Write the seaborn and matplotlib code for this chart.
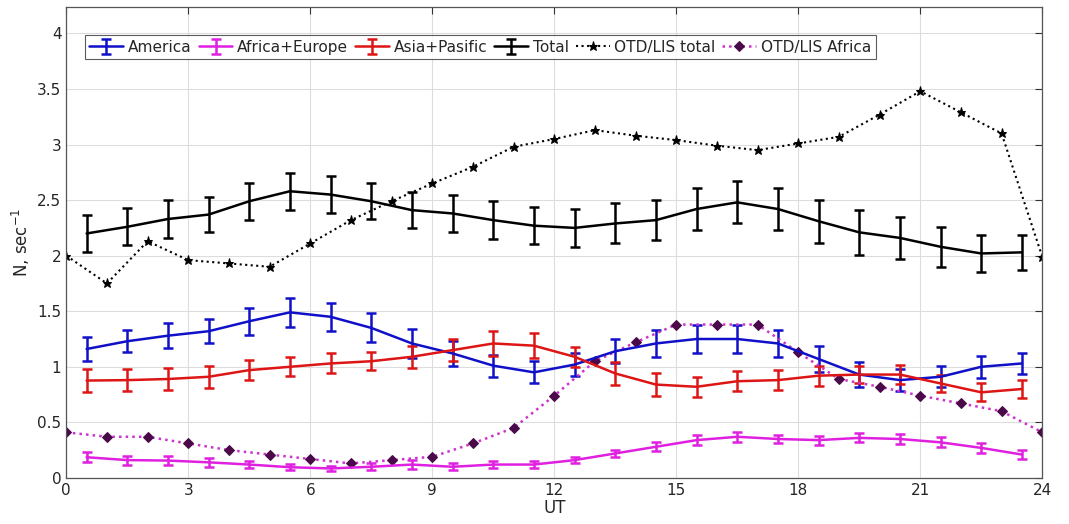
import numpy as np
import pandas as pd
import seaborn as sns
import matplotlib
matplotlib.use("Agg")
import matplotlib.pyplot as plt

# hourly bins (regional data) and full-hour points (OTD/LIS)
ut_bins = [h + 0.5 for h in range(24)]
ut_hours = list(range(25))

america = [1.16, 1.23, 1.28, 1.32, 1.41, 1.49, 1.45, 1.35, 1.21, 1.12, 1.01, 0.95,
           1.02, 1.14, 1.21, 1.25, 1.25, 1.21, 1.07, 0.93, 0.88, 0.91, 1.00, 1.03]
america_err = [0.105, 0.10, 0.11, 0.11, 0.12, 0.13, 0.125, 0.13, 0.13, 0.11, 0.10, 0.10,
               0.10, 0.11, 0.12, 0.125, 0.13, 0.12, 0.12, 0.11, 0.10, 0.095, 0.10, 0.095]

africa_europe = [0.186, 0.16, 0.156, 0.14, 0.12, 0.096, 0.085, 0.10, 0.12, 0.10, 0.12, 0.12,
                 0.16, 0.22, 0.28, 0.34, 0.37, 0.35, 0.34, 0.36, 0.35, 0.32, 0.27, 0.21]
africa_europe_err = [0.045, 0.04, 0.04, 0.04, 0.035, 0.025, 0.02, 0.03, 0.04, 0.03, 0.03, 0.03,
                     0.03, 0.03, 0.04, 0.045, 0.045, 0.04, 0.04, 0.04, 0.045, 0.045, 0.045, 0.04]

asia_pacific = [0.876, 0.88, 0.89, 0.91, 0.97, 1.00, 1.03, 1.05, 1.09, 1.15, 1.21, 1.19,
                1.09, 0.94, 0.84, 0.82, 0.87, 0.88, 0.92, 0.93, 0.93, 0.85, 0.77, 0.80]
asia_pacific_err = [0.105, 0.10, 0.10, 0.10, 0.09, 0.085, 0.09, 0.08, 0.10, 0.10, 0.11, 0.11,
                    0.09, 0.10, 0.10, 0.09, 0.09, 0.09, 0.09, 0.08, 0.085, 0.08, 0.08, 0.08]

total = [2.20, 2.26, 2.33, 2.37, 2.49, 2.58, 2.55, 2.49, 2.41, 2.38, 2.32, 2.27,
         2.25, 2.29, 2.32, 2.42, 2.48, 2.42, 2.31, 2.21, 2.16, 2.08, 2.02, 2.03]
total_err = [0.17, 0.165, 0.17, 0.16, 0.165, 0.165, 0.165, 0.16, 0.16, 0.17, 0.17, 0.165,
             0.17, 0.18, 0.18, 0.185, 0.19, 0.19, 0.195, 0.2, 0.19, 0.18, 0.17, 0.16]

otd_total = [2.00, 1.75, 2.13, 1.96, 1.93, 1.90, 2.11, 2.32, 2.49, 2.65, 2.80, 2.98, 3.05,
             3.13, 3.08, 3.04, 2.99, 2.95, 3.01, 3.07, 3.27, 3.48, 3.29, 3.10, 1.99]
otd_africa = [0.41, 0.37, 0.37, 0.31, 0.25, 0.21, 0.17, 0.13, 0.16, 0.19, 0.31, 0.45, 0.74,
              1.05, 1.22, 1.38, 1.38, 1.38, 1.13, 0.89, 0.82, 0.74, 0.67, 0.60, 0.41]

legend_order = ["America", "Africa+Europe", "Asia+Pasific", "Total",
                "OTD/LIS total", "OTD/LIS Africa"]

sns.set_style("white")
plt.rcParams['font.family'] = ['DejaVu Sans']

fig, ax = plt.subplots(figsize=(10.69, 5.24), dpi=100)
fig.subplots_adjust(left=0.062, right=0.975, top=0.987, bottom=0.088)

# regional series with error bars
regions = [
    ("America", america, america_err, "#1010c8"),
    ("Africa+Europe", africa_europe, africa_europe_err, "#e020e0"),
    ("Asia+Pasific", asia_pacific, asia_pacific_err, "#dd1515"),
    ("Total", total, total_err, "black"),
]
for name, vals, errs, col in regions:
    ax.errorbar(ut_bins, vals, yerr=errs, color=col, lw=1.8, elinewidth=1.8,
                capsize=3.6, capthick=1.8, label=name)

otd = pd.DataFrame({"UT": ut_hours, "total": otd_total, "africa": otd_africa})
sns.lineplot(data=otd, x="UT", y="total", ax=ax, color="black", lw=1.5,
             linestyle=":", marker="*", markersize=6.5, markeredgecolor="black",
             label="OTD/LIS total")
sns.lineplot(data=otd, x="UT", y="africa", ax=ax, color="#cc33cc", lw=1.8,
             linestyle=":", marker="D", markersize=5, markerfacecolor="#4a0a4a",
             markeredgecolor="#4a0a4a", label="OTD/LIS Africa")

ax.set_xlim(0, 24)
ax.set_ylim(0, 4.24)
ax.set_xticks(range(0, 25, 3))
ax.set_yticks([0, 0.5, 1, 1.5, 2, 2.5, 3, 3.5, 4])
ax.set_yticklabels(["0", "0.5", "1", "1.5", "2", "2.5", "3", "3.5", "4"])
ax.grid(True, color="#dddddd", lw=0.8)
ax.tick_params(direction="in", top=True, right=True, length=5, labelsize=11,
               colors="#333333", labelcolor="#262626")
for s in ax.spines.values():
    s.set_color("#555555")
    s.set_linewidth(0.9)
ax.set_xlabel("UT", fontsize=12, color="#262626", labelpad=1)
ax.set_ylabel("N, sec$^{-1}$", fontsize=12, color="#262626", labelpad=4)

handles, labels = ax.get_legend_handles_labels()
lookup = dict(zip(labels, handles))
leg = ax.legend([lookup[k] for k in legend_order], legend_order,
                loc="upper left", bbox_to_anchor=(0.019, 0.94), ncol=6,
                fontsize=11.1, frameon=True, fancybox=False, edgecolor="#333333",
                handlelength=2.2, handletextpad=0.3, columnspacing=0.45,
                borderpad=0.3, borderaxespad=0)
leg.get_frame().set_linewidth(0.8)

fig.savefig("out.png", dpi=100)
